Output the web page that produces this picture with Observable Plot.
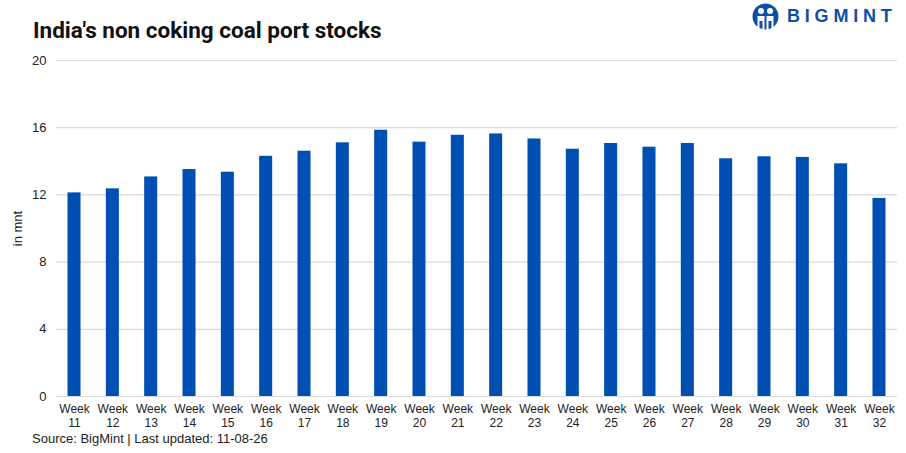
<!DOCTYPE html>
<html>
<head>
<meta charset="utf-8">
<script src="https://cdn.jsdelivr.net/npm/d3@7"></script>
<script src="https://cdn.jsdelivr.net/npm/@observablehq/plot@0.6"></script>
<style>
  html, body { margin: 0; padding: 0; background: #fff; }
  body { width: 906px; height: 453px; overflow: hidden; position: relative; font-family: "Liberation Sans", Arial, sans-serif; }
  #header { height: 48px; position: relative; }
  #title { position: absolute; left: 33px; top: 17px; font-family: Roboto, "Liberation Sans", sans-serif; font-weight: 700; font-size: 22.5px; color: #111; letter-spacing: 0px; white-space: nowrap; }
  #logo { position: absolute; left: 752px; top: 3px; display: flex; align-items: center; }
  #logo span { font-family: "Liberation Sans", Arial, sans-serif; font-weight: 700; font-size: 18px; letter-spacing: 4.8px; color: #0d4ea6; margin-left: 8px; }
  #caption { position: absolute; left: 32px; top: 431px; font-size: 13px; color: #222; }
</style>
</head>
<body>
<div id="header">
  <div id="title">India's non coking coal port stocks</div>
  <div id="logo">
    <svg width="27" height="27" viewBox="0 0 27 27">
      <circle cx="13.5" cy="13.5" r="13" fill="#0d4ea6"/>
      <circle cx="9" cy="8" r="3" fill="#fff"/>
      <circle cx="18" cy="8" r="3" fill="#fff"/>
      <path d="M5.5 13 h7 v14 h-2 v-9 h-3 v9 h-2z" fill="#fff"/>
      <path d="M14.5 13 h7 v14 h-2 v-9 h-3 v9 h-2z" fill="#fff"/>
    </svg>
    <span>BIGMINT</span>
  </div>
</div>
<div id="chart"></div>
<div id="caption">Source: BigMint | Last updated: 11-08-26</div>
<script>
const weeks = ["11","12","13","14","15","16","17","18","19","20","21","22","23","24","25","26","27","28","29","30","31","32"];
const stocks = [12.12, 12.36, 13.07, 13.51, 13.35, 14.30, 14.60, 15.10, 15.85, 15.14, 15.55, 15.63, 15.33, 14.72, 15.06, 14.84, 15.06, 14.15, 14.27, 14.23, 13.85, 11.79];
const yTicks = [0, 4, 8, 12, 16, 20];

const data = weeks.map((w, i) => ({week: "Week\n" + w, value: stocks[i]}));

const chart = Plot.plot({
  width: 906,
  height: 382,
  marginTop: 12,
  marginBottom: 34,
  marginLeft: 56,
  marginRight: 9,
  style: {fontFamily: "'Liberation Sans', Arial, sans-serif", fontSize: "12px", color: "#222", background: "#fff"},
  x: {domain: data.map(d => d.week), paddingInner: 0.66, paddingOuter: 0.3, round: false, label: null},
  y: {domain: [0, 20], ticks: yTicks, label: null},
  marks: [
    Plot.gridY(yTicks, {stroke: "#d9d9d9", strokeOpacity: 1, strokeWidth: 1.2}),
    Plot.axisY(yTicks, {tickSize: 0, tickPadding: 10, fontSize: 13, label: "in mnt", labelAnchor: "center", labelArrow: "none", labelOffset: 44}),
    Plot.axisX({tickSize: 0, tickPadding: 7, lineHeight: 1.15, fontSize: 12, label: null}),
    Plot.barY(data, {x: "week", y: "value", fill: "#0050b4"}),
    Plot.ruleY([0], {stroke: "#d9d9d9", strokeWidth: 1.2})
  ]
});
document.getElementById("chart").appendChild(chart);
</script>
</body>
</html>
